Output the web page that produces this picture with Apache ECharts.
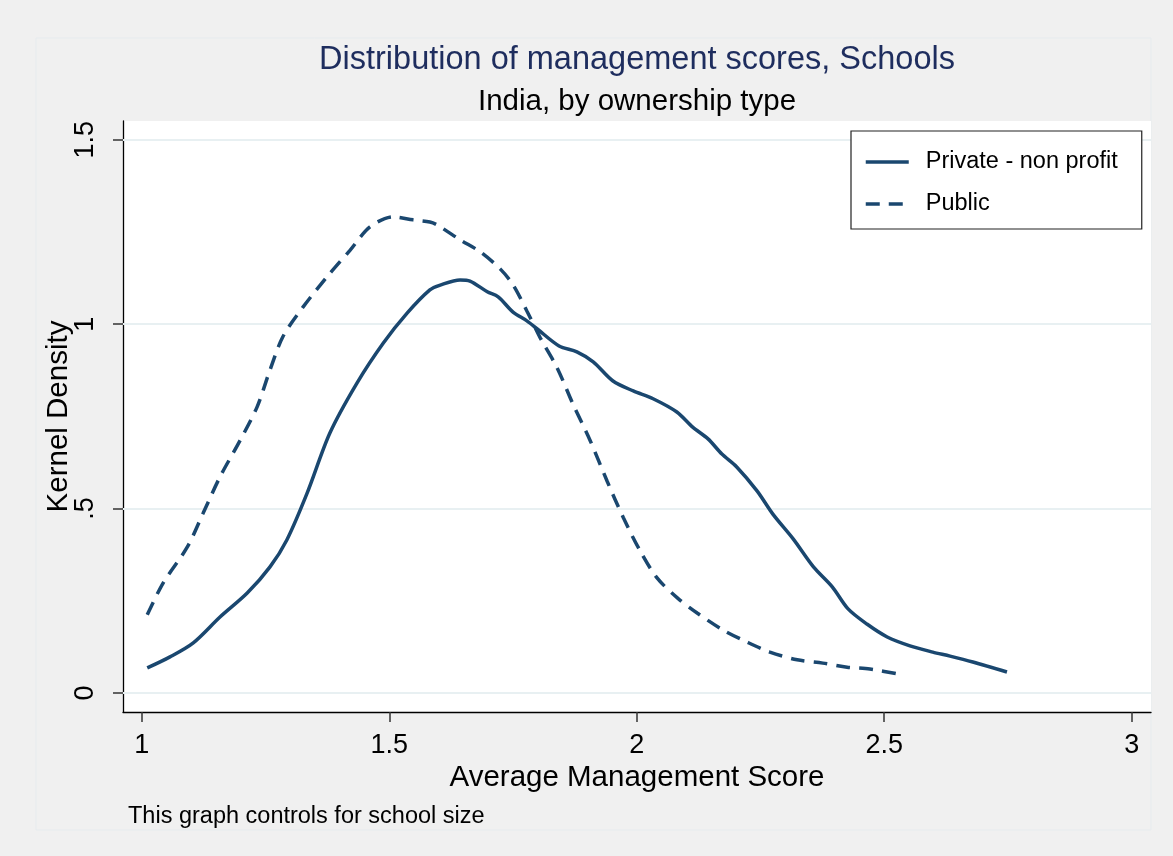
<!DOCTYPE html>
<html>
<head>
<meta charset="utf-8">
<script src="https://cdn.jsdelivr.net/npm/echarts@6/dist/echarts.min.js"></script>
<style>
  html, body { margin: 0; padding: 0; background: #f0f0f0; }
  #chart { width: 1173px; height: 856px; }
</style>
</head>
<body>
<div id="chart"></div>
<script>
// kernel density, private - non profit schools
var privateX = [1.011, 1.057, 1.104, 1.158, 1.213, 1.259, 1.293, 1.334, 1.380, 1.435, 1.488, 1.536, 1.582, 1.603, 1.643, 1.663, 1.698, 1.720, 1.750, 1.778, 1.799, 1.843, 1.879, 1.912, 1.952, 1.993, 2.033, 2.081, 2.113, 2.144, 2.172, 2.202, 2.243, 2.275, 2.316, 2.357, 2.395, 2.427, 2.465, 2.506, 2.552, 2.598, 2.633, 2.679, 2.748];
var privateY = [0.068, 0.098, 0.136, 0.206, 0.271, 0.342, 0.415, 0.542, 0.705, 0.841, 0.949, 1.030, 1.093, 1.106, 1.120, 1.117, 1.088, 1.074, 1.033, 1.009, 0.987, 0.941, 0.925, 0.898, 0.846, 0.819, 0.798, 0.762, 0.721, 0.689, 0.648, 0.613, 0.548, 0.485, 0.418, 0.342, 0.288, 0.228, 0.187, 0.152, 0.128, 0.111, 0.100, 0.084, 0.057];

// kernel density, public schools
var publicX = [1.011, 1.043, 1.092, 1.124, 1.158, 1.199, 1.233, 1.259, 1.285, 1.326, 1.374, 1.421, 1.461, 1.508, 1.548, 1.582, 1.597, 1.643, 1.684, 1.724, 1.750, 1.778, 1.805, 1.839, 1.871, 1.906, 1.940, 1.973, 2.007, 2.041, 2.082, 2.122, 2.174, 2.223, 2.269, 2.324, 2.376, 2.425, 2.471, 2.538];
var publicY = [0.212, 0.298, 0.396, 0.488, 0.586, 0.686, 0.776, 0.876, 0.966, 1.047, 1.128, 1.201, 1.264, 1.291, 1.283, 1.277, 1.269, 1.229, 1.196, 1.150, 1.107, 1.036, 0.963, 0.882, 0.784, 0.684, 0.575, 0.475, 0.385, 0.312, 0.258, 0.217, 0.171, 0.138, 0.111, 0.090, 0.081, 0.070, 0.065, 0.049];

var xTicks = [1, 1.5, 2, 2.5, 3];
var yTicks = [0, 0.5, 1, 1.5];
var yTickLabels = ["0", ".5", "1", "1.5"];

var seriesNames = ["Private - non profit", "Public"];

var lineColor = "#1a476f";
var dash = [14, 9];
var font = "Liberation Sans, Arial, Helvetica, sans-serif";

function zip(xs, ys) {
  return xs.map(function (x, i) { return [x, ys[i]]; });
}

var chart = echarts.init(document.getElementById("chart"));

chart.setOption({
  backgroundColor: "#f0f0f0",
  animation: false,
  graphic: [
    {
      type: "rect",
      shape: { x: 36, y: 38, width: 1115, height: 792 },
      style: { fill: "none", stroke: "#e6ebee", lineWidth: 1 },
      silent: true,
      z: -1
    },
    {
      type: "text",
      x: 637, y: 60,
      style: {
        text: "Distribution of management scores, Schools",
        fill: "#1e2d5e", font: "32.5px " + font,
        textAlign: "center", textVerticalAlign: "middle"
      }
    },
    {
      type: "text",
      x: 637, y: 102,
      style: {
        text: "India, by ownership type",
        fill: "#000", font: "29.5px " + font,
        textAlign: "center", textVerticalAlign: "middle"
      }
    },
    {
      type: "text",
      x: 128, y: 817,
      style: {
        text: "This graph controls for school size",
        fill: "#000", font: "23.5px " + font,
        textAlign: "left", textVerticalAlign: "middle"
      }
    }
  ],
  legend: {
    orient: "vertical",
    left: 851,
    top: 131,
    padding: [19, 24, 13, 13],
    itemGap: 18,
    itemWidth: 43,
    itemHeight: 23,
    backgroundColor: "#fff",
    borderColor: "#222",
    borderWidth: 1.2,
    borderRadius: 0,
    itemStyle: { opacity: 0 },
    lineStyle: { width: 3.5 },
    data: [
      { name: seriesNames[0] },
      { name: seriesNames[1] }
    ],
    textStyle: { fontSize: 23.5, color: "#000", fontFamily: font, padding: [0, 0, 0, 12] }
  },
  grid: {
    left: 123,
    top: 121,
    width: 1028,
    height: 591,
    show: true,
    backgroundColor: "#fff",
    borderWidth: 0
  },
  xAxis: {
    type: "value",
    min: 0.962,
    max: 3.039,
    name: "Average Management Score",
    nameLocation: "middle",
    nameGap: 51,
    nameMoveOverlap: false,
    nameTextStyle: { fontSize: 29.5, color: "#000", fontFamily: font },
    axisLine: { show: true, onZero: false, lineStyle: { color: "#000", width: 1.3 } },
    axisTick: { show: true, length: 10, customValues: xTicks, lineStyle: { color: "#333", width: 1.5 } },
    axisLabel: {
      customValues: xTicks,
      margin: 20,
      fontSize: 27,
      color: "#000",
      fontFamily: font,
      formatter: function (v) { return String(v); }
    },
    splitLine: { show: false }
  },
  yAxis: {
    type: "value",
    min: -0.0515,
    max: 1.551,
    name: "Kernel Density",
    nameLocation: "middle",
    nameGap: 49,
    nameMoveOverlap: false,
    nameRotate: 90,
    nameTextStyle: { fontSize: 29.5, color: "#000", fontFamily: font },
    axisLine: { show: true, onZero: false, lineStyle: { color: "#000", width: 1.3 } },
    axisTick: { show: true, length: 10, customValues: yTicks, lineStyle: { color: "#333", width: 1.5 } },
    axisLabel: {
      customValues: yTicks,
      rotate: 90,
      margin: 24,
      fontSize: 27,
      color: "#000",
      fontFamily: font,
      formatter: function (v) {
        var i = yTicks.indexOf(v);
        return i >= 0 ? yTickLabels[i] : "";
      }
    },
    splitLine: { show: false }
  },
  series: [
    {
      name: seriesNames[0],
      type: "line",
      data: zip(privateX, privateY),
      smooth: 0.3,
      symbol: "none",
      lineStyle: { color: lineColor, width: 3.5 },
      itemStyle: { color: lineColor },
      z: 3,
      markLine: {
        silent: true,
        symbol: "none",
        label: { show: false },
        lineStyle: { color: "#e8f0f2", width: 2, type: "solid" },
        data: yTicks.map(function (v) { return { yAxis: v }; }),
        z: 1
      }
    },
    {
      name: seriesNames[1],
      type: "line",
      data: zip(publicX, publicY),
      smooth: 0.3,
      symbol: "none",
      lineStyle: { color: lineColor, width: 3.5, type: dash },
      itemStyle: { color: lineColor },
      z: 3
    }
  ]
});
</script>
</body>
</html>
